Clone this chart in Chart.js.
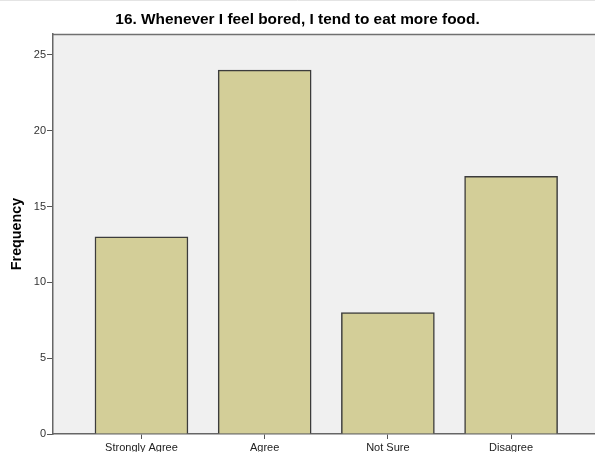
<!DOCTYPE html>
<html>
<head>
<meta charset="utf-8">
<script src="https://cdn.jsdelivr.net/npm/chart.js@4/dist/chart.umd.min.js"></script>
<style>
  html, body { margin: 0; padding: 0; background: #ffffff; }
  #wrap { width: 595px; height: 452px; position: relative; }
</style>
</head>
<body>
<div id="wrap"><canvas id="freqChart"></canvas></div>
<script>
// Données du graphique
const categories = ['Strongly Agree', 'Agree', 'Not Sure', 'Disagree'];
const frequencies = [13, 24, 8, 17];
const yTicks = [0, 5, 10, 15, 20, 25];
const chartTitle = '16. Whenever I feel bored, I tend to eat more food.';
const yTitle = 'Frequency';

// Fond gris de la zone de tracé + bordure du haut
const plotBackground = {
    id: 'plotBackground',
    beforeDraw(chart) {
        const { ctx, chartArea: a } = chart;
        ctx.save();
        ctx.fillStyle = '#f0f0f0';
        ctx.fillRect(a.left, a.top, a.right - a.left, a.bottom - a.top);
        ctx.strokeStyle = '#707070';
        ctx.lineWidth = 1.5;
        ctx.beginPath();
        ctx.moveTo(a.left, a.top + 0.5);
        ctx.lineTo(a.right, a.top + 0.5);
        ctx.stroke();
        ctx.strokeStyle = '#e4e4e4';
        ctx.lineWidth = 1;
        ctx.beginPath();
        ctx.moveTo(0, 0.5);
        ctx.lineTo(chart.width, 0.5);
        ctx.stroke();
        ctx.restore();
    }
};

function initChart() {
    const ctx = document.getElementById('freqChart').getContext('2d');
    Chart.defaults.font.family = '"Liberation Sans", Arial, sans-serif';

    new Chart(ctx, {
        type: 'bar',
        data: {
            datasets: [{
                data: frequencies.map((v, i) => ({ x: i + 1, y: v })),
                backgroundColor: '#d3ce98',
                borderColor: '#3c3c3c',
                borderWidth: 1.5,
                barThickness: 93
            }]
        },
        options: {
            responsive: true,
            maintainAspectRatio: false,
            animation: false,
            layout: { padding: { left: 0, right: 0, top: 0, bottom: 0 } },
            plugins: {
                legend: { display: false },
                tooltip: { enabled: false },
                title: {
                    display: true,
                    text: chartTitle,
                    color: '#000000',
                    font: { size: 15.4, weight: 'bold' },
                    padding: { top: 11, bottom: 4.5 }
                }
            },
            scales: {
                x: {
                    type: 'linear',
                    offset: false,
                    min: 0.282,
                    max: 4.681,
                    afterBuildTicks: (scale) => {
                        scale.ticks = categories.map((c, i) => ({ value: i + 1 }));
                    },
                    afterFit: (scale) => { scale.height = 18; },
                    ticks: {
                        callback: (v) => categories[Math.round(v) - 1],
                        color: '#222222',
                        font: { size: 11 },
                        padding: 2,
                        maxRotation: 0,
                        autoSkip: false
                    },
                    grid: {
                        offset: false,
                        drawOnChartArea: false,
                        drawTicks: true,
                        tickLength: 5,
                        color: '#555555'
                    },
                    border: { display: true, color: '#666666', width: 1.5 }
                },
                y: {
                    min: 0,
                    max: 26.38,
                    afterBuildTicks: (scale) => {
                        scale.ticks = yTicks.map(v => ({ value: v }));
                    },
                    afterFit: (scale) => { scale.width = 53; },
                    ticks: {
                        color: '#333333',
                        font: { size: 11 },
                        padding: 1
                    },
                    grid: {
                        drawOnChartArea: false,
                        drawTicks: true,
                        tickLength: 6,
                        color: '#555555'
                    },
                    border: { display: true, color: '#666666', width: 1.5 },
                    title: {
                        display: true,
                        text: yTitle,
                        color: '#000000',
                        font: { size: 14.3, weight: 'bold' },
                        padding: { top: 8, bottom: 0 }
                    }
                }
            }
        },
        plugins: [plotBackground]
    });
}

document.addEventListener('DOMContentLoaded', initChart);
</script>
</body>
</html>
